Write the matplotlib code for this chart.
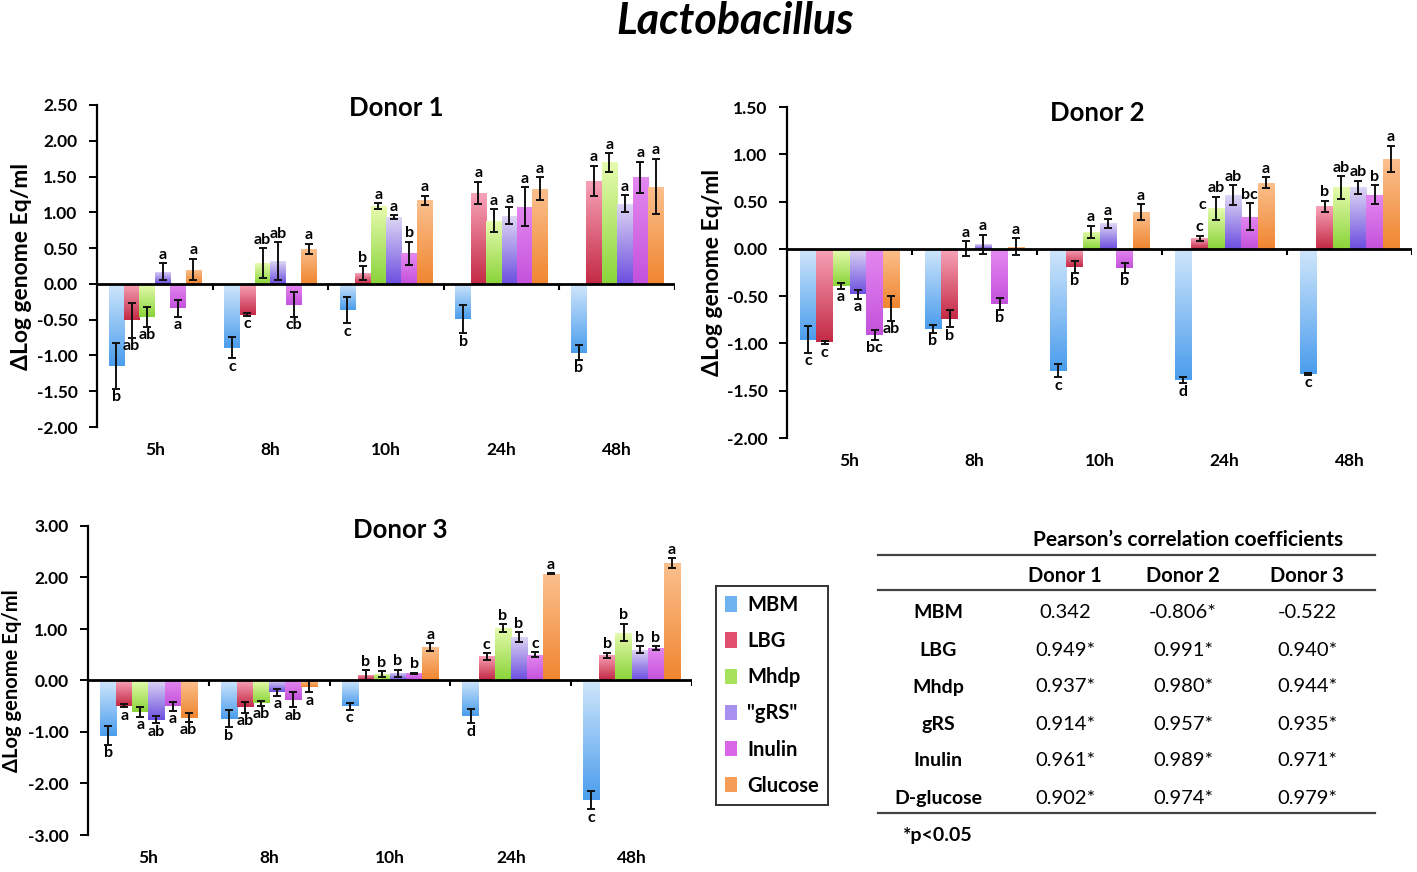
import matplotlib
matplotlib.use('Agg')
import matplotlib.pyplot as plt
import numpy as np
from matplotlib.colors import LinearSegmentedColormap
from matplotlib.patches import Patch
from matplotlib.lines import Line2D

plt.rcParams['font.family'] = ['Lato', 'DejaVu Sans']

# ── Data (rows: MBM, LBG, Mhdp, gRS, Inulin, Glucose; cols: time points) ──
TIMES = ["5h", "8h", "10h", "24h", "48h"]
SAMPLES = ["MBM", "LBG", "Mhdp", '"gRS"', "Inulin", "Glucose"]

D1_MEAN = [[-1.15, -0.89, -0.37, -0.49, -0.96],
           [-0.51, -0.43, 0.15, 1.27, 1.44],
           [-0.46, 0.29, 1.09, 0.88, 1.70],
           [0.17, 0.32, 0.93, 0.95, 1.12],
           [-0.34, -0.29, 0.43, 1.08, 1.49],
           [0.20, 0.49, 1.17, 1.33, 1.36]]
D1_ERR = [[0.32, 0.15, 0.18, 0.20, 0.10],
          [0.24, 0.02, 0.10, 0.16, 0.21],
          [0.14, 0.21, 0.04, 0.16, 0.13],
          [0.12, 0.26, 0.03, 0.12, 0.12],
          [0.12, 0.17, 0.16, 0.27, 0.22],
          [0.15, 0.07, 0.065, 0.16, 0.39]]
D1_LETTERS = [["b", "c", "c", "b", "b"],
              ["ab", "c", "b", "a", "a"],
              ["ab", "ab", "a", "a", "a"],
              ["a", "ab", "a", "a", "a"],
              ["a", "cb", "b", "a", "a"],
              ["a", "a", "a", "a", "a"]]

D2_MEAN = [[-0.96, -0.85, -1.29, -1.39, -1.32],
           [-0.99, -0.74, -0.19, 0.11, 0.45],
           [-0.39, 0.00, 0.18, 0.43, 0.65],
           [-0.48, 0.05, 0.27, 0.57, 0.65],
           [-0.91, -0.58, -0.20, 0.34, 0.57],
           [-0.63, 0.02, 0.39, 0.70, 0.95]]
D2_ERR = [[0.14, 0.04, 0.07, 0.03, 0.01],
          [0.02, 0.09, 0.06, 0.03, 0.06],
          [0.03, 0.08, 0.065, 0.12, 0.12],
          [0.05, 0.10, 0.045, 0.105, 0.07],
          [0.05, 0.065, 0.05, 0.14, 0.10],
          [0.13, 0.09, 0.08, 0.06, 0.14]]
D2_LETTERS = [["c", "b", "c", "d", "c"],
              ["c", "b", "b", "c", "b"],
              ["a", "a", "a", "ab", "ab"],
              ["a", "a", "a", "ab", "ab"],
              ["bc", "b", "b", "bc", "b"],
              ["ab", "a", "a", "a", "a"]]

D3_MEAN = [[-1.07, -0.74, -0.50, -0.69, -2.32],
           [-0.49, -0.52, 0.10, 0.47, 0.49],
           [-0.61, -0.44, 0.12, 1.02, 0.93],
           [-0.76, -0.23, 0.14, 0.84, 0.60],
           [-0.50, -0.37, 0.14, 0.50, 0.63],
           [-0.72, -0.12, 0.65, 2.07, 2.28]]
D3_ERR = [[0.18, 0.17, 0.07, 0.14, 0.18],
          [0.03, 0.11, 0.10, 0.065, 0.05],
          [0.10, 0.05, 0.06, 0.07, 0.17],
          [0.07, 0.065, 0.07, 0.10, 0.07],
          [0.09, 0.15, 0.01, 0.05, 0.035],
          [0.08, 0.11, 0.08, 0.01, 0.09]]
D3_LETTERS = [["b", "b", "c", "d", "c"],
              ["a", "ab", "b", "c", "b"],
              ["a", "ab", "b", "b", "b"],
              ["ab", "a", "b", "b", "b"],
              ["a", "ab", "b", "c", "b"],
              ["ab", "a", "a", "a", "a"]]

# stray letter in Donor 2 / 24h next to the Mhdp bar
D2_EXTRA = [(2, 3, "c")]

# ── Pearson table ──
TABLE_TITLE = "Pearson\u2019s correlation coefficients"
TABLE_COLS = ["Donor 1", "Donor 2", "Donor 3"]
TABLE_ROWS = ["MBM", "LBG", "Mhdp", "gRS", "Inulin", "D-glucose"]
TABLE_VALS = [["0.342", "-0.806*", "-0.522"],
              ["0.949*", "0.991*", "0.940*"],
              ["0.937*", "0.980*", "0.944*"],
              ["0.914*", "0.957*", "0.935*"],
              ["0.961*", "0.989*", "0.971*"],
              ["0.902*", "0.974*", "0.979*"]]

# ── Styles ──
SHADES = [("#cfe6fb", "#4b9ded"),
          ("#f7a3b8", "#c42a45"),
          ("#e6fbae", "#8ad43a"),
          ("#ddd6f4", "#6d4fe0"),
          ("#e488f0", "#c452dc"),
          ("#fbc08e", "#f08630")]
FLAT = ["#6fb2f0", "#e0506e", "#a8e25c", "#a890ee", "#d866e6", "#f59c56"]

W, H = 1417, 872


def px_axes(fig, left, right, top, bottom):
    return fig.add_axes([left / W, 1 - bottom / H, (right - left) / W, (bottom - top) / H])


def shade_bars(ax, bars, light, dark):
    cmap = LinearSegmentedColormap.from_list("g", [light, dark])
    grad = np.linspace(0, 1, 64).reshape(-1, 1)
    for b in bars:
        x0, y0, w, h = b.get_x(), b.get_y(), b.get_width(), b.get_height()
        lo, hi = min(y0, y0 + h), max(y0, y0 + h)
        if hi - lo <= 0:
            continue
        im = ax.imshow(grad, cmap=cmap, extent=(x0, x0 + w, lo, hi),
                       origin="upper", aspect="auto", zorder=2)
        im.set_clip_path(b)


def donor_panel(ax, title, means, errs, letters, yticks, title_xy, ylabel_x,
                ylabel_size, extra=()):
    n = len(SAMPLES)
    width = 0.8 / n
    x = np.arange(len(TIMES))
    ymin, ymax = yticks[0], yticks[-1]
    for i in range(n):
        xs = x - 0.4 + width * (i + 0.5)
        m = np.array(means[i])
        e = np.array(errs[i])
        bars = ax.bar(xs, m, width, color=SHADES[i][1], linewidth=0, zorder=2)
        shade_bars(ax, bars, *SHADES[i])
        ax.errorbar(xs, m, yerr=e, fmt="none", ecolor="#111111", elinewidth=1.4,
                    capsize=3.2, capthick=1.4, zorder=4)
        for xi, mi, ei, lab in zip(xs, m, e, letters[i]):
            if mi >= 0:
                ax.annotate(lab, (xi, mi + ei), xytext=(0, 1), textcoords="offset points",
                            ha="center", va="bottom", fontsize=11.5, fontweight="bold")
            else:
                ax.annotate(lab, (xi, mi - ei), xytext=(0, -1), textcoords="offset points",
                            ha="center", va="top", fontsize=11.5, fontweight="bold")
    for i, t, lab in extra:
        xi = x[t] - 0.4 + width * (i + 0.5)
        ax.annotate(lab, (xi - width / 2, means[i][t]), xytext=(-1, 2),
                    textcoords="offset points", ha="right", va="center",
                    fontsize=11.5, fontweight="bold")

    ax.set_xlim(-0.5, len(TIMES) - 0.5)
    ax.set_ylim(ymin, ymax)
    ax.axhline(0, color="black", linewidth=2, zorder=5)
    bounds = np.arange(0.5, len(TIMES), 1.0)
    ax.vlines(bounds, 0, -(ymax - ymin) * 0.018, color="black", linewidth=1.5, zorder=5)

    for s in ["top", "right", "bottom"]:
        ax.spines[s].set_visible(False)
    ax.spines["left"].set_linewidth(1.6)
    ax.set_yticks(yticks)
    ax.set_yticklabels([f"{v:.2f}" for v in yticks], fontsize=12.5, fontweight="bold")
    ax.tick_params(axis="y", direction="out", length=6, width=1.4, pad=8)
    ax.set_xticks(x)
    ax.set_xticklabels(TIMES, fontsize=12.5, fontweight="bold")
    ax.tick_params(axis="x", length=0, pad=11)
    ax.set_ylabel("\u0394Log genome Eq/ml", fontsize=ylabel_size, fontweight="bold")
    ax.yaxis.set_label_coords(ylabel_x, 0.5)
    ax.text(title_xy[0], title_xy[1], title, transform=ax.transAxes, ha="center",
            va="center", fontsize=18.5, fontweight="bold")


fig = plt.figure(figsize=(W / 100, H / 100), dpi=100)
fig.text(735 / W, 1 - 21 / H, "Lactobacillus", ha="center", va="center",
         fontsize=31, fontweight="bold", fontstyle="italic")

ax1 = px_axes(fig, 97, 675, 105, 427)
donor_panel(ax1, "Donor 1", D1_MEAN, D1_ERR, D1_LETTERS, np.arange(-2.0, 2.51, 0.5),
            (0.517, 0.99), -0.112, 16.5)

ax2 = px_axes(fig, 787, 1412, 107, 438)
donor_panel(ax2, "Donor 2", D2_MEAN, D2_ERR, D2_LETTERS, np.arange(-2.0, 1.51, 0.5),
            (0.496, 0.982), -0.102, 16.5, extra=D2_EXTRA)

ax3 = px_axes(fig, 88, 692, 526, 835)
donor_panel(ax3, "Donor 3", D3_MEAN, D3_ERR, D3_LETTERS, np.arange(-3.0, 3.01, 1.0),
            (0.517, 0.987), -0.109, 14.5)

# ── Legend ──
handles = [Patch(facecolor=c, edgecolor="none") for c in FLAT]
leg = fig.legend(handles, SAMPLES, loc="upper left", bbox_to_anchor=(716 / W, 1 - 586 / H),
                 frameon=True, fancybox=False, edgecolor="black",
                 prop={"weight": "bold", "size": 14.5}, handlelength=0.6, handleheight=0.8,
                 handletextpad=0.5, labelspacing=0.8, borderpad=0.45, borderaxespad=0)
leg.get_frame().set_linewidth(1.4)

# ── Pearson table ──
def fx(px):
    return px / W


def fy(py):
    return 1 - py / H


for yl in [555, 590, 813]:
    fig.add_artist(Line2D([fx(878), fx(1375)], [fy(yl), fy(yl)], color="#444444", linewidth=1.6))

fig.text(fx(1188), fy(540), TABLE_TITLE, ha="center", va="center", fontsize=15, fontweight="bold")
col_x = [1065, 1183, 1307]
row_y = [612, 650, 687, 724, 761, 798]
for cx, name in zip(col_x, TABLE_COLS):
    fig.text(fx(cx), fy(576), name, ha="center", va="center", fontsize=14.5, fontweight="bold")
for ry, name, vals in zip(row_y, TABLE_ROWS, TABLE_VALS):
    fig.text(fx(938), fy(ry), name, ha="center", va="center", fontsize=14, fontweight="bold")
    for cx, v in zip(col_x, vals):
        fig.text(fx(cx), fy(ry), v, ha="center", va="center", fontsize=14.5)
fig.text(fx(938), fy(835), "*p<0.05", ha="center", va="center", fontsize=14, fontweight="bold")

plt.savefig("out.png", dpi=100)
plt.close()
